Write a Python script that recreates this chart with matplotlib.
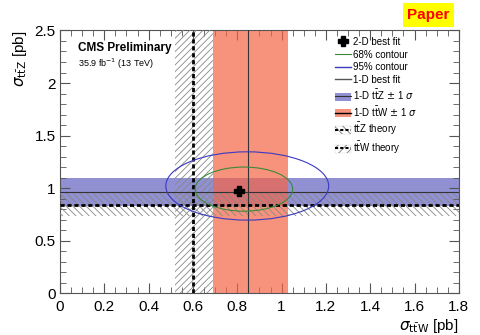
import matplotlib
matplotlib.use('Agg')
import matplotlib.pyplot as plt
from matplotlib.lines import Line2D
from matplotlib.patches import Ellipse, Patch
from matplotlib.ticker import MultipleLocator, FuncFormatter

plt.rcParams['font.family'] = ['Liberation Sans', 'DejaVu Sans']
plt.rcParams['hatch.linewidth'] = 0.6

# values (pb)
ttw_theory, ttw_theory_lo, ttw_theory_hi = 0.60, 0.52, 0.69
ttz_theory, ttz_theory_lo, ttz_theory_hi = 0.84, 0.73, 0.95
ttw_fit, ttw_lo, ttw_hi = 0.85, 0.69, 1.03
ttz_fit, ttz_lo, ttz_hi = 0.96, 0.83, 1.10
best_2d = (0.81, 0.97)
# contours as ellipses: centre x, centre y, full width, full height
c68 = (0.83, 0.99, 0.44, 0.42)
c95 = (0.845, 1.02, 0.735, 0.65)

fig = plt.figure(figsize=(4.8, 3.35), dpi=100)
ax = fig.add_axes([0.125, 0.125, 0.831, 0.784])

ax.axhspan(ttz_lo, ttz_hi, color='#4646b4', alpha=0.6, lw=0, zorder=1)
ax.axvspan(ttw_lo, ttw_hi, color='#f56446', alpha=0.7, lw=0, zorder=2)
ax.axvspan(ttw_theory_lo, ttw_theory_hi, facecolor='none', edgecolor='#888888',
           hatch='/////', lw=0, zorder=3)
ax.axhspan(ttz_theory_lo, ttz_theory_hi, facecolor='none', edgecolor='#888888',
           hatch='\\\\\\\\\\', lw=0, zorder=3)
ax.axvline(ttw_fit, color='#333333', lw=0.8, zorder=4)
ax.axhline(ttz_fit, color='#333333', lw=0.8, zorder=4)
ax.axvline(ttw_theory, color='black', ls=(0, (1.5, 1)), lw=2, zorder=5)
ax.axhline(ttz_theory, color='black', ls=(0, (1.5, 1)), lw=2, zorder=5)

ax.add_patch(Ellipse(c68[:2], c68[2], c68[3], fill=False, ec='#3a8a3a', lw=0.8, zorder=6))
ax.add_patch(Ellipse(c95[:2], c95[2], c95[3], fill=False, ec='#3a3ac0', lw=0.8, zorder=6))
ax.plot(*best_2d, marker='P', color='black', ms=7, zorder=7)

ax.set_xlim(0, 1.8)
ax.set_ylim(0, 2.5)
ax.xaxis.set_major_locator(MultipleLocator(0.2))
ax.xaxis.set_minor_locator(MultipleLocator(0.05))
ax.yaxis.set_major_locator(MultipleLocator(0.5))
ax.yaxis.set_minor_locator(MultipleLocator(0.1))
fmt = FuncFormatter(lambda v, _: f'{v:g}')
ax.xaxis.set_major_formatter(fmt)
ax.yaxis.set_major_formatter(fmt)
ax.tick_params(which='both', direction='in', top=True, right=True,
               labelsize=11, color='#555555')
ax.tick_params(which='major', length=7)
ax.tick_params(which='minor', length=4)
ax.tick_params(axis='x', pad=5)
ax.tick_params(axis='y', pad=3)
for s in ax.spines.values():
    s.set_color('#555555')

ax.set_xlabel(r'$\sigma_{\mathrm{t\bar{t}W}}$ [pb]', loc='right', fontsize=11, labelpad=2)
ax.set_ylabel(r'$\sigma_{\mathrm{t\bar{t}Z}}$ [pb]', loc='top', fontsize=11, labelpad=4)

ax.text(0.045, 0.955, 'CMS Preliminary', transform=ax.transAxes, fontsize=8.5,
        fontweight='bold', va='top')
ax.text(0.045, 0.9, r'35.9 fb$^{-1}$ (13 TeV)', transform=ax.transAxes, fontsize=6.5,
        va='top')

handles = [
    Line2D([], [], marker='P', color='black', ls='none', ms=7),
    Line2D([], [], color='#3a8a3a', lw=0.8),
    Line2D([], [], color='#3a3ac0', lw=1),
    Line2D([], [], color='#555555', lw=1),
    (Patch(facecolor='#4646b4', alpha=0.6), Line2D([], [], color='#333333', lw=0.8)),
    (Patch(facecolor='#f56446', alpha=0.7), Line2D([], [], color='black', lw=1)),
    (Patch(facecolor='white', edgecolor='#777777', hatch='\\\\\\\\', lw=0.1),
     Line2D([], [], color='black', ls=(0, (1.5, 1)), lw=1.5)),
    (Patch(facecolor='white', edgecolor='#777777', hatch='////', lw=0.1),
     Line2D([], [], color='black', ls=(0, (1.5, 1)), lw=1.5)),
]
labels = ['2-D best fit', '68% contour', '95% contour', '1-D best fit',
          r'1-D t$\mathrm{\bar{t}}$Z $\pm$ 1 $\sigma$',
          r'1-D t$\mathrm{\bar{t}}$W $\pm$ 1 $\sigma$',
          r't$\mathrm{\bar{t}}$Z theory', r't$\mathrm{\bar{t}}$W theory']
ax.legend(handles, labels, loc='upper left', bbox_to_anchor=(0.679, 0.99),
          frameon=False, fontsize=7, handlelength=1.7, handleheight=0.9,
          handletextpad=0.2, labelspacing=0.28, borderaxespad=0)

fig.text(0.893, 0.955, 'Paper', color='red', fontsize=11, fontweight='bold',
         ha='center', va='center',
         bbox=dict(boxstyle='square,pad=0.3', facecolor='yellow', edgecolor='none'))

fig.savefig('out.png', dpi=100)
